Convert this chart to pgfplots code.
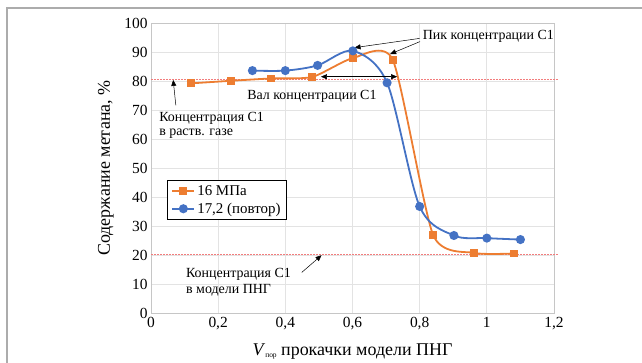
\documentclass[border=0pt]{standalone}
\usepackage{pgfplots}
\pgfplotsset{compat=1.18}
\usetikzlibrary{arrows.meta}
\usepackage{fontspec}
\setmainfont{Liberation Serif}
\definecolor{xlorange}{HTML}{ED7D31}
\definecolor{xlblue}{HTML}{4472C4}
\definecolor{redline}{HTML}{F27D7D}
\begin{document}
\begin{tikzpicture}
\useasboundingbox (0,0) rectangle (642bp,363bp);
\draw[gray!65, line width=2bp] (7bp,0) -- (7bp,355bp) -- (642bp,355bp);
\begin{axis}[
  at={(151bp,49.7bp)}, anchor=south west,
  scale only axis, width=403bp, height=290.3bp,
  xmin=0, xmax=1.2, ymin=0, ymax=100,
  xtick={0,0.2,0.4,0.6,0.8,1,1.2},
  ytick={0,10,20,30,40,50,60,70,80,90,100},
  grid=major, major grid style={gray!22, line width=0.8bp},
  axis line style={gray!45, line width=0.8bp},
  tick style={draw=none},
  clip=false,
  ticklabel style={font=\fontsize{15.5}{17}\selectfont},
  /pgf/number format/.cd, use comma, assume math mode=true,
  /pgfplots/.cd,
  xlabel={\textit{V}\raisebox{-2bp}{\fontsize{7.5}{8}\selectfont пор} прокачки модели ПНГ},
  ylabel={Содержание метана, \%},
  label style={font=\fontsize{18}{20}\selectfont},
  xlabel style={at={(axis description cs:0.5,-0.133)}, anchor=center},
  ylabel style={at={(axis description cs:-0.112,0.5)}, anchor=center},
  legend style={at={(axis description cs:0.0397,0.459)}, anchor=north west,
    draw=black, line width=0.8bp, font=\fontsize{15}{17}\selectfont,
    row sep=2bp, inner xsep=4bp, inner ysep=3bp},
  legend cell align=left,
  legend image code/.code={\draw[#1, mark repeat=2, mark phase=2] plot coordinates {(0cm,0cm) (0.39cm,0cm) (0.78cm,0cm)};},
]
% reference lines
\addplot[redline, dash pattern=on 1.5bp off 1.5bp, line width=1bp, forget plot] coordinates {(0,80.7) (1.212,80.7)};
\addplot[redline, dash pattern=on 1.5bp off 1.5bp, line width=1bp, forget plot] coordinates {(0,20.2) (1.212,20.2)};
% series
\addplot[xlorange, line width=1.8bp, smooth, tension=0.38, mark=square*, mark size=3bp,
  mark options={solid, fill=xlorange}] coordinates {
  (0.118,79.2) (0.239,80.1) (0.358,80.9) (0.48,81.4) (0.601,87.9) (0.72,87.3)
  (0.84,27.0) (0.962,20.8) (1.08,20.6)};
\addlegendentry{16 МПа}
\addplot[xlblue, line width=1.8bp, smooth, tension=0.5, mark=*, mark size=3.6bp,
  mark options={solid, fill=xlblue}] coordinates {
  (0.302,83.6) (0.40,83.6) (0.496,85.4) (0.601,90.4) (0.703,79.4)
  (0.80,36.8) (0.902,26.8) (1.0,25.9) (1.10,25.4)};
\addlegendentry{17,2 (повтор)\hspace{10bp}}
% annotations
\draw[black, line width=0.5bp, -{Triangle[length=6bp,width=5bp]}] (axis cs:0.800,94.7) -- (axis cs:0.606,91.5);
\draw[black, line width=0.5bp, -{Triangle[length=6bp,width=5bp]}] (axis cs:0.801,93.6) -- (axis cs:0.712,89.3);
\node[anchor=west, inner sep=0, font=\fontsize{14}{16}\selectfont] at (axis cs:0.809,95.5) {Пик концентрации С1};
\draw[black, line width=0.5bp, {Triangle[length=6bp,width=5bp]}-{Triangle[length=6bp,width=5bp]}] (axis cs:0.506,81.5) -- (axis cs:0.733,81.5);
\node[anchor=west, inner sep=0, font=\fontsize{14}{16}\selectfont] at (axis cs:0.286,74.6) {Вал концентрации С1};
\draw[black, line width=0.5bp, -{Triangle[length=6bp,width=5bp]}] (axis cs:0.074,71.6) -- (axis cs:0.066,80.4);
\node[anchor=west, inner sep=0, align=left, font=\fontsize{14}{14}\selectfont] at (axis cs:0.024,64.6) {Концентрация С1\\в раств. газе};
\draw[black, line width=0.5bp, -{Triangle[length=6bp,width=5bp]}] (axis cs:0.449,14.1) -- (axis cs:0.508,20.0);
\node[anchor=west, inner sep=0, align=left, font=\fontsize{14}{16}\selectfont] at (axis cs:0.104,10.6) {Концентрация С1\\в модели ПНГ};
\end{axis}
\end{tikzpicture}
\end{document}
